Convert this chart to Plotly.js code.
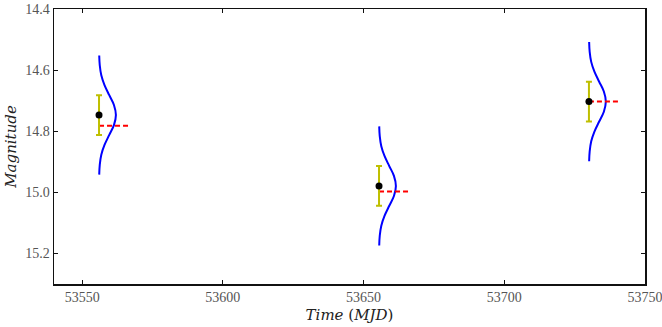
<!DOCTYPE html>
<html>
<head>
<meta charset="utf-8">
<script src="https://cdn.plot.ly/plotly-3.0.1.min.js"></script>
<style>html,body{margin:0;padding:0;background:#fff;}#chart{width:662px;height:327px;}</style>
</head>
<body>
<div id="chart"></div>
<script>
// Observations
const obsTime = [53556.0, 53655.5, 53730.1];
const obsMag = [14.747, 14.979, 14.703];
const obsErr = [0.065, 0.065, 0.065];
// Model magnitude (red dashed segments)
const modelMag = [14.782, 14.997, 14.703];
const modelSpan = [11, 11, 11];
// Gaussian profile: magnitude offsets and time offsets
const gaussMagOffset = [-0.195, -0.163, -0.13, -0.098, -0.065, -0.033, 0, 0.033, 0.065, 0.098, 0.13, 0.163, 0.195];
const gaussTimeOffset = [0.07, 0.26, 0.81, 1.95, 3.64, 5.3, 6.0, 5.3, 3.64, 1.95, 0.81, 0.26, 0.07];

const xTicks = [53550, 53600, 53650, 53700, 53750];
const yTicks = [14.4, 14.6, 14.8, 15.0, 15.2];

const traces = [];
for (let i = 0; i < obsTime.length; i++) {
  traces.push({
    x: gaussTimeOffset.map(d => obsTime[i] + d),
    y: gaussMagOffset.map(d => obsMag[i] + d),
    mode: 'lines', type: 'scatter',
    line: {color: '#0000ff', width: 2, shape: 'spline', smoothing: 1},
    hoverinfo: 'skip', showlegend: false
  });
  traces.push({
    x: [obsTime[i], obsTime[i] + modelSpan[i]],
    y: [modelMag[i], modelMag[i]],
    mode: 'lines', type: 'scatter',
    line: {color: '#ff0000', width: 2, dash: '5px,3px'},
    showlegend: false
  });
}
traces.push({
  x: obsTime, y: obsMag, mode: 'markers', type: 'scatter',
  marker: {color: '#000', size: 7},
  error_y: {type: 'data', array: obsErr, visible: true, color: '#bfbf00', thickness: 2, width: 3},
  showlegend: false
});

const tickFam = '"Liberation Serif", serif';
const titleFam = '"DejaVu Serif", serif';
const layout = {
  width: 662, height: 327,
  margin: {l: 54, r: 17, t: 9, b: 43},
  paper_bgcolor: '#fff', plot_bgcolor: '#fff',
  showlegend: false,
  font: {family: tickFam, color: '#444', size: 14},
  xaxis: {
    range: [53540, 53750.02], tickvals: xTicks, ticktext: xTicks.map(String),
    ticklabeloverflow: 'allow',
    showgrid: false, zeroline: false, showline: true, mirror: 'ticks',
    linecolor: '#111', linewidth: 1.5, ticks: 'inside', ticklen: 4, tickcolor: '#111',
    tickfont: {family: tickFam, size: 14, color: '#555'},
    title: {text: '<i>Time</i> (<i>MJD</i>)', font: {family: titleFam, size: 15, color: '#222'}, standoff: 5}
  },
  yaxis: {
    range: [15.3, 14.3999], tickvals: yTicks, ticktext: yTicks.map(v => v.toFixed(1)),
    ticklabeloverflow: 'allow',
    showgrid: false, zeroline: false, showline: true, mirror: 'ticks',
    linecolor: '#111', linewidth: 1.5, ticks: 'inside', ticklen: 4, tickcolor: '#111',
    tickfont: {family: tickFam, size: 14, color: '#555'},
    title: {text: '<i>Magnitude</i>', font: {family: titleFam, size: 15, color: '#222'}, standoff: 5}
  }
};
Plotly.newPlot('chart', traces, layout, {staticPlot: true, displayModeBar: false});
</script>
</body>
</html>
